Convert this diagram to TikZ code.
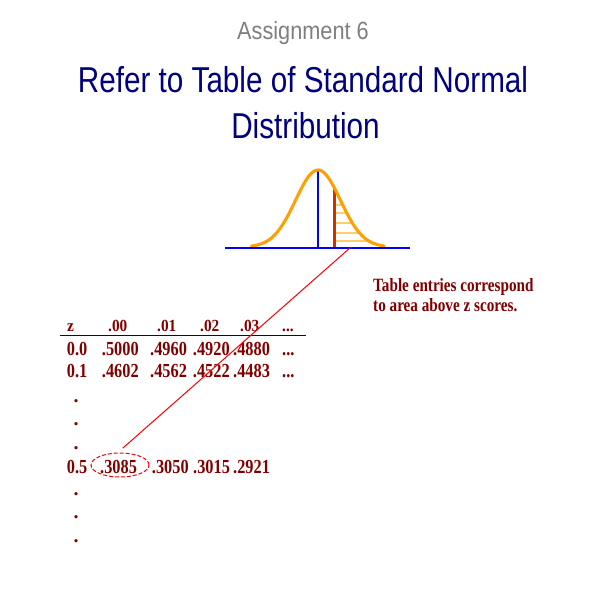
\documentclass[tikz,border=0pt]{standalone}
\usepackage{fontspec}
\setmainfont{Liberation Serif}
\newfontfamily\arialf{Liberation Sans}
\usepackage{graphicx}
\usetikzlibrary{shapes.geometric}
\definecolor{navy}{RGB}{0,0,128}
\definecolor{tabred}{RGB}{128,0,0}
\definecolor{curveor}{RGB}{255,160,0}
\definecolor{cutred}{RGB}{204,51,0}
\definecolor{hatchor}{RGB}{255,204,110}
\definecolor{grtext}{RGB}{128,128,128}
\newcommand\sx[2]{\scalebox{#1}[1]{#2}}
\tikzset{
  titletext/.style={anchor=base, inner sep=0pt, text=navy, font=\arialf\fontsize{30.7}{30.7}\selectfont},
  headcell/.style={anchor=base west, inner sep=0pt, text=tabred, font=\fontsize{14.5}{14.5}\selectfont\bfseries},
  cell/.style={anchor=base west, inner sep=0pt, text=tabred, font=\fontsize{17}{17}\selectfont\bfseries},
  vdot/.style={anchor=base, inner sep=0pt, text=tabred, font=\fontsize{17}{17}\selectfont\bfseries},
  captext/.style={anchor=base west, inner sep=0pt, text=tabred, font=\fontsize{16}{16}\selectfont\bfseries},
  hatchline/.style={draw=hatchor, line width=1.3pt},
}
\begin{document}
\begin{tikzpicture}[x=0.03cm,y=-0.03cm]
\useasboundingbox (0,0) rectangle (600,600);
\fill[white] (0,0) rectangle (600,600);

% titles
\node[anchor=base, inner sep=0pt, text=grtext, font=\arialf\fontsize{21.3}{21.3}\selectfont] (asg) at (303,40) {\sx{0.87}{Assignment 6}};
\node[titletext] (t1) at (303,93) {\sx{0.825}{Refer to Table of Standard Normal}};
\node[titletext] (t2) at (305.5,139) {\sx{0.825}{Distribution}};

% bell curve
\foreach \yy/\xx in {205/342.8, 213/346.8, 223/352.3, 233/359.5, 241/368.8}
  \draw[hatchline] (335,\yy) -- (\xx,\yy);
\draw[blue, line width=1.3pt] (318,169.5) -- (318,247.5);
\draw[cutred, line width=2.4pt] (334.7,188.6) -- (334.7,247.5);
\draw[curveor, line width=2.6pt, line join=round, line cap=round]
  plot[domain=251.5:384, samples=90] (\x, {247-77*exp(-((\x-318)*(\x-318))/1012)});
\draw[blue, line width=1.8pt] (225,247.7) -- (410,247.7);

% caption
\node[captext] (cap1) at (373,291.7) {\sx{0.81}{Table entries correspond}};
\node[captext] (cap2) at (373,311.7) {\sx{0.81}{to area above z scores.}};

% table header
\node[headcell] (hz) at (67,331) {\sx{0.9}{z}};
\node[headcell] (h0) at (108,331) {\sx{0.9}{.00}};
\node[headcell] (h1) at (157,331) {\sx{0.9}{.01}};
\node[headcell] (h2) at (200,331) {\sx{0.9}{.02}};
\node[headcell] (h3) at (240,331) {\sx{0.9}{.03}};
\node[headcell] (h4) at (282,331) {\sx{0.9}{...}};
\coordinate (ula) at (60,335.3);
\coordinate (ulb) at (306,335.3);
\draw[navy, line width=0.9pt] (ula) -- (ulb);

% row 0.0
\node[cell] (a0) at (66.7,355) {\sx{0.82}{0.0}};
\node[cell] (a1) at (101.7,355) {\sx{0.82}{.5000}};
\node[cell] (a2) at (150,355) {\sx{0.82}{.4960}};
\node[cell] (a3) at (192.7,355) {\sx{0.82}{.4920}};
\node[cell] (a4) at (233,355) {\sx{0.82}{.4880}};
\node[cell] (a5) at (282,355) {\sx{0.82}{...}};
% row 0.1
\node[cell] (b0) at (66.7,377.5) {\sx{0.82}{0.1}};
\node[cell] (b1) at (101.7,377.5) {\sx{0.82}{.4602}};
\node[cell] (b2) at (150,377.5) {\sx{0.82}{.4562}};
\node[cell] (b3) at (192.7,377.5) {\sx{0.82}{.4522}};
\node[cell] (b4) at (233,377.5) {\sx{0.82}{.4483}};
\node[cell] (b5) at (282,377.5) {\sx{0.82}{...}};
% dots
\node[vdot] (d1) at (76,402.2) {.};
\node[vdot] (d2) at (76,425.8) {.};
\node[vdot] (d3) at (76,449.2) {.};
% row 0.5
\node[cell] (c0) at (66.7,473) {\sx{0.82}{0.5}};
\node[cell] (c1) at (100,473) {\sx{0.82}{.3085}};
\node[cell] (c2) at (151.7,473) {\sx{0.82}{.3050}};
\node[cell] (c3) at (193,473) {\sx{0.82}{.3015}};
\node[cell] (c4) at (233,473) {\sx{0.82}{.2921}};
\node[vdot] (d4) at (76,495.8) {.};
\node[vdot] (d5) at (76,518.8) {.};
\node[vdot] (d6) at (76,542.2) {.};

% selection ellipse and connector
\node[ellipse, draw=red, line width=0.85pt, dash pattern=on 3.4pt off 1.7pt, minimum width=1.74cm, minimum height=0.72cm, inner sep=0pt] (sel) at (120,465) {};
\coordinate (tail) at (350.5,247.5);
\draw[red, line width=0.85pt, shorten >=0.2cm] (tail) -- (sel.100);
\end{tikzpicture}
\end{document}
